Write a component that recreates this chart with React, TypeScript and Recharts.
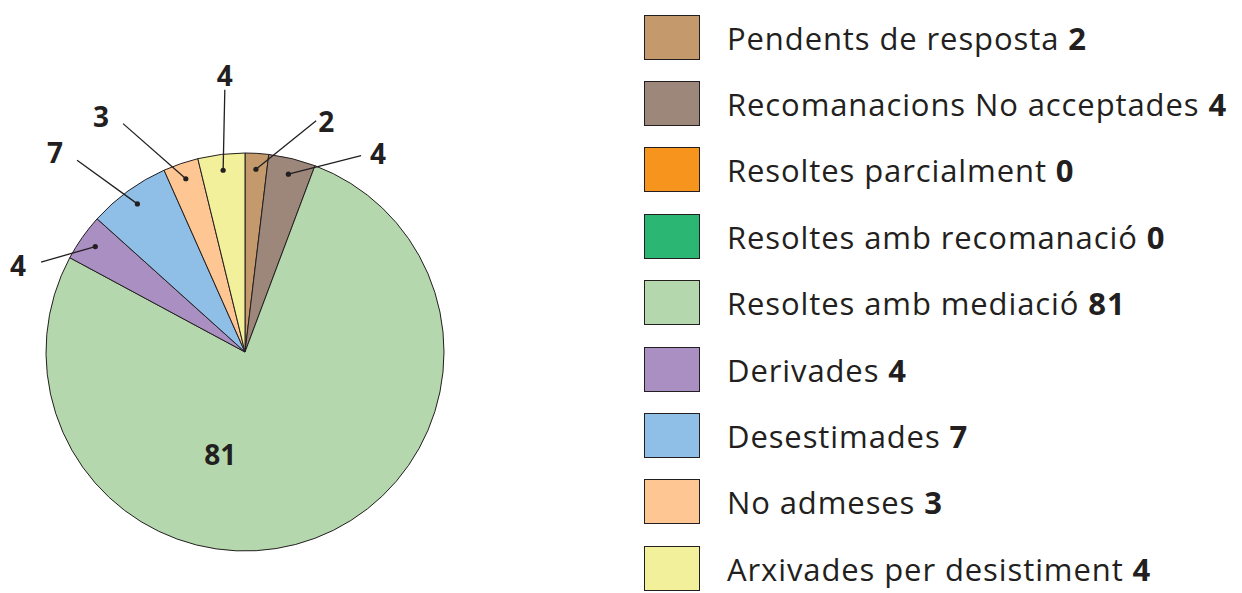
import React from "react";
import { PieChart, Pie, Cell, Legend } from "recharts";

const CATEGORIES = [
  "Pendents de resposta",
  "Recomanacions No acceptades",
  "Resoltes parcialment",
  "Resoltes amb recomanació",
  "Resoltes amb mediació",
  "Derivades",
  "Desestimades",
  "No admeses",
  "Arxivades per desistiment",
];

const VALUES = [2, 4, 0, 0, 81, 4, 7, 3, 4];

const COLORS = [
  "#C49A6C",
  "#9C877A",
  "#F7941E",
  "#2BB673",
  "#B5D7AD",
  "#AA8FC3",
  "#8FBFE6",
  "#FDC693",
  "#F2F09A",
];

// label placement per slice: where the leader line ends (polar, from the pie centre)
// and where the number sits relative to that end
const LABEL_LAYOUT: Record<string, { angle: number; r: number; dx: number; dy: number; anchor: "start" | "middle" | "end"; line: boolean }> = {
  "Pendents de resposta": { angle: 72.9, r: 1.216, dx: 2, dy: 11, anchor: "start", line: true },
  "Recomanacions No acceptades": { angle: 59.4, r: 1.146, dx: 9, dy: 8, anchor: "start", line: true },
  "Resoltes amb mediació": { angle: -103.6, r: 0.53, dx: 0, dy: 10, anchor: "middle", line: false },
  Derivades: { angle: 156.2, r: 1.12, dx: -15, dy: 14, anchor: "end", line: true },
  Desestimades: { angle: 131.2, r: 1.281, dx: -14, dy: 3, anchor: "end", line: true },
  "No admeses": { angle: 118.1, r: 1.301, dx: -14, dy: 3, anchor: "end", line: true },
  "Arxivades per desistiment": { angle: 94.4, r: 1.322, dx: 0, dy: -4, anchor: "middle", line: true },
};

const FONT = "'Open Sans', Lato, sans-serif";
const INK = "#231F20";
const RAD = Math.PI / 180;

const data = CATEGORIES.map((name, i) => ({ name, value: VALUES[i], color: COLORS[i] }));
const pieData = data.filter((d) => d.value > 0);

function polar(cx: number, cy: number, r: number, angle: number) {
  return { x: cx + r * Math.cos(-angle * RAD), y: cy + r * Math.sin(-angle * RAD) };
}

function renderLabel(props: any) {
  const { cx, cy, midAngle, outerRadius, name, value } = props;
  const lay = LABEL_LAYOUT[name];
  if (!lay) return null;
  const end = polar(cx, cy, outerRadius * lay.r, lay.angle);
  const dot = polar(cx, cy, outerRadius * 0.92, midAngle);
  return (
    <g>
      {lay.line && (
        <>
          <line x1={dot.x} y1={dot.y} x2={end.x} y2={end.y} stroke={INK} strokeWidth={1.3} />
          <circle cx={dot.x} cy={dot.y} r={2.6} fill={INK} />
        </>
      )}
      <text
        x={end.x + lay.dx}
        y={end.y + lay.dy}
        textAnchor={lay.anchor}
        fill={INK}
        fontFamily={FONT}
        fontWeight={700}
        fontSize={28}
      >
        {value}
      </text>
    </g>
  );
}

function LegendList() {
  return (
    <div style={{ fontFamily: FONT, color: INK }}>
      {data.map((d) => (
        <div key={d.name} style={{ display: "flex", alignItems: "center", height: 66.4 }}>
          <div
            style={{
              width: 54,
              height: 43,
              background: d.color,
              border: `1.5px solid ${INK}`,
              marginRight: 27,
              flexShrink: 0,
            }}
          />
          <span style={{ fontSize: 31, letterSpacing: 0.9, whiteSpace: "nowrap", paddingTop: 1 }}>
            {d.name} <b>{d.value}</b>
          </span>
        </div>
      ))}
    </div>
  );
}

export default function App() {
  return (
    <PieChart width={1234} height={585} margin={{ top: 0, right: 0, bottom: 0, left: 0 }}>
      <Pie
        data={pieData}
        dataKey="value"
        nameKey="name"
        cx={237}
        cy={344}
        outerRadius={199}
        startAngle={90}
        endAngle={-270}
        stroke={INK}
        strokeWidth={1}
        label={renderLabel}
        labelLine={false}
        isAnimationActive={false}
      >
        {pieData.map((d) => (
          <Cell key={d.name} fill={d.color} />
        ))}
      </Pie>
      <Legend
        content={() => <LegendList />}
        layout="vertical"
        wrapperStyle={{ position: "absolute", left: 636, top: -4, width: 600 }}
      />
    </PieChart>
  );
}
